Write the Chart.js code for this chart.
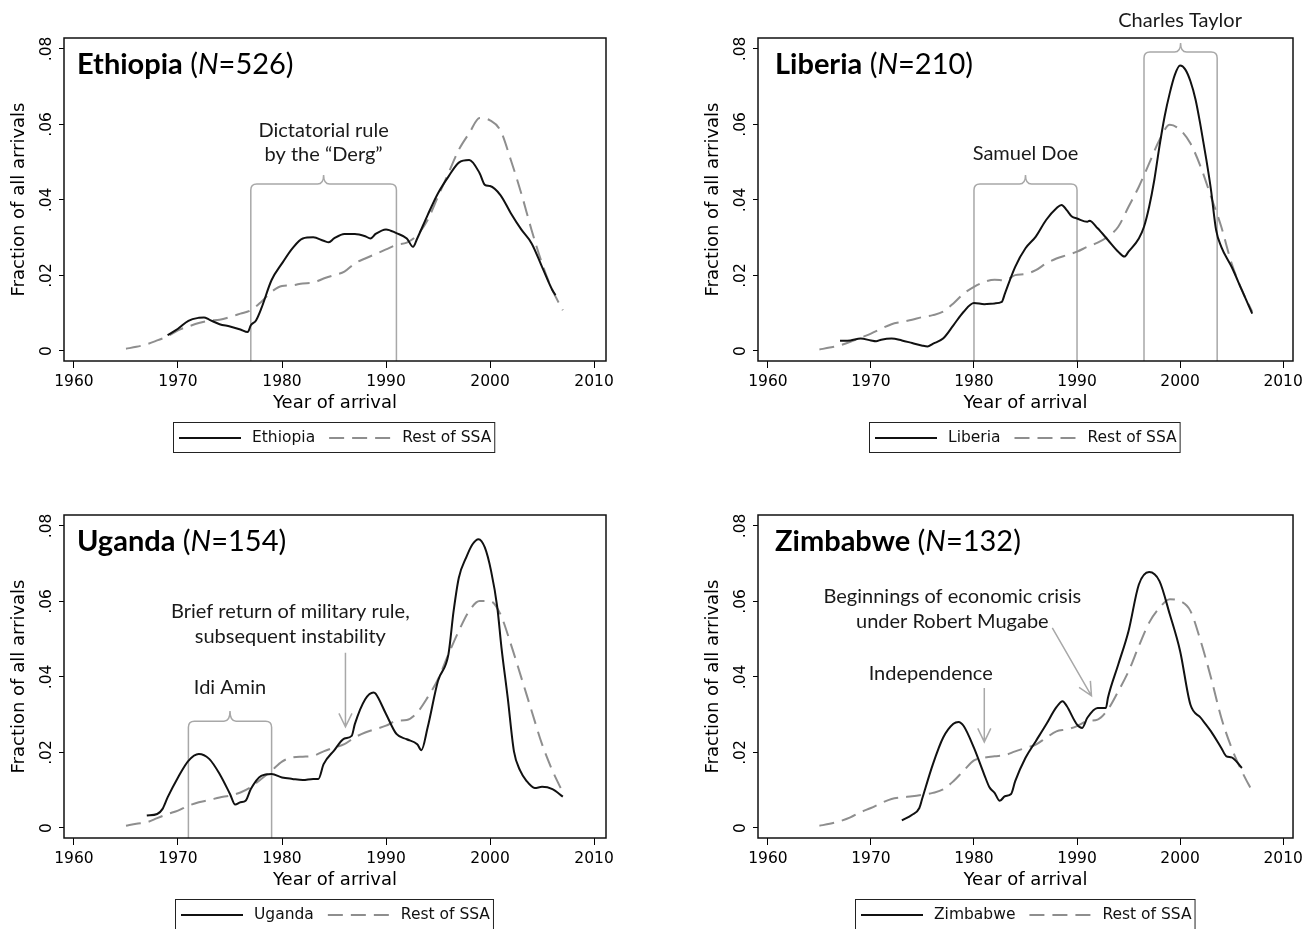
<!DOCTYPE html>
<html>
<head>
<meta charset="utf-8">
<script src="https://cdn.jsdelivr.net/npm/chart.js@4.4.0/dist/chart.umd.min.js"></script>
<style>
  body { margin: 0; background: #fff; width: 1308px; height: 929px; overflow: hidden; position: relative; }
  canvas { position: absolute; }
</style>
</head>
<body>
<canvas id="eth" width="654" height="464" style="left:0;top:0"></canvas>
<canvas id="lib" width="654" height="464" style="left:654px;top:0"></canvas>
<canvas id="uga" width="654" height="465" style="left:0;top:464px"></canvas>
<canvas id="zim" width="654" height="465" style="left:654px;top:464px"></canvas>
<script>
// axis ticks
var xTickVals = [1960, 1970, 1980, 1990, 2000, 2010];
var yTickVals = [0, .02, .04, .06, .08];
var yTickLabels = ['0', '.02', '.04', '.06', '.08'];

// years for the "Rest of SSA" series
var restYears = [1965,1966,1967,1968,1969,1970,1971,1972,1973,1974,1975,1976,1977,1978,1979,
  1980,1981,1982,1983,1984,1985,1986,1987,1988,1989,1990,1991,1992,1993,1994,1995,1996,1997,
  1998,1999,2000,2001,2002,2003,2004,2005,2006,2007];

// Ethiopia
var ethYears = [1969,1970,1971,1972,1972.5,1973,1974,1975,1976,1976.7,1977,1977.5,1978,1979,1980,
  1981,1982,1983,1984,1984.5,1985,1986,1987,1988,1988.5,1989,1990,1991,1992,1992.6,1993,1994,1995,
  1996,1997,1998,1999,1999.5,2000,2001,2002,2003,2004,2005,2006,2006.3];
var ethVals = [.0042,.0059,.008,.0088,.0089,.0083,.0071,.0065,.0057,.005,.0068,.0081,.0112,.0188,.0232,
  .0272,.0298,.0301,.0292,.0288,.0298,.031,.031,.0304,.0298,.031,.0322,.0312,.0298,.0276,.0298,.036,.0418,
  .0462,.0499,.0506,.0471,.044,.0437,.0413,.0365,.0322,.0285,.0223,.0161,.0148];
var ethRest = [.0006,.0011,.0018,.0028,.0039,.0055,.0065,.0074,.008,.0083,.009,.0099,.0108,.013,.0157,
  .0172,.0174,.0179,.0181,.0192,.0201,.021,.0232,.0245,.0257,.0269,.0281,.0287,.0307,.0347,.0409,.0471,
  .0533,.0577,.0617,.0611,.0584,.0506,.0418,.032,.0232,.0161,.0108];

// Liberia
var libYears = [1967,1968,1969,1970,1970.5,1971,1972,1973,1974,1975,1975.5,1976,1977,1978,1979,1980,
  1981,1982,1982.7,1983,1984,1985,1986,1987,1988,1988.5,1989,1989.5,1990,1991,1991.2,1992,1993,1994,
  1994.6,1995,1996,1996.5,1997,1997.5,1998,1998.5,1999,1999.5,2000,2000.5,2001,2001.5,2002,2002.5,
  2003,2003.5,2004,2005,2006,2007];
var libVals = [.0027,.0028,.0033,.0028,.0026,.003,.0033,.0028,.0021,.0014,.0012,.0019,.0033,.0068,.0104,
  .0127,.0124,.0126,.013,.0152,.0223,.0272,.0303,.0347,.0378,.0387,.0373,.0356,.0351,.0342,.0345,.0325,
  .0294,.0263,.025,.0263,.0298,.0329,.0382,.0453,.0542,.0621,.0683,.0732,.0756,.0746,.0715,.0666,.0595,
  .0515,.0427,.032,.0276,.0223,.0161,.0099];
var libRest = [.0004,.0009,.0015,.0024,.0035,.0046,.0059,.0071,.0077,.0083,.009,.0095,.0104,.0126,.0152,
  .017,.0183,.0189,.0187,.0201,.0204,.0214,.0232,.0245,.0254,.0263,.0276,.0287,.0303,.0329,.0382,.0435,
  .0497,.0559,.0599,.0586,.055,.0488,.0409,.0329,.0232,.0161,.0104];

// Uganda
var ugaYears = [1967,1968,1968.5,1969,1970,1971,1972,1973,1974,1975,1975.5,1976,1976.5,1977,1978,1979,
  1980,1981,1982,1983,1983.5,1984,1985,1986,1986.7,1987,1988,1988.8,1989,1990,1991,1992,1993,1993.4,
  1994,1995,1996,1996.5,1997,1997.7,1998.3,1998.9,1999.5,2000.1,2000.7,2001.1,2001.7,2002.3,2002.9,
  2003.5,2004.3,2005,2006,2007];
var ugaVals = [.0033,.0037,.005,.0081,.0134,.0178,.0196,.0183,.0143,.009,.0062,.0068,.0072,.0103,.0138,
  .0143,.0134,.013,.0127,.013,.013,.0169,.0205,.0237,.0244,.0275,.0341,.0359,.0356,.0302,.0249,.0235,
  .0222,.0206,.0266,.039,.046,.0575,.0663,.0716,.0751,.0765,.0743,.0681,.0584,.0478,.0345,.0203,.0152,
  .0125,.0106,.0109,.0103,.0083];
var ugaRest = [.0006,.0011,.0015,.0026,.0037,.0046,.0059,.0068,.0074,.0081,.0086,.0094,.0108,.013,.0152,
  .0176,.0187,.0189,.0191,.0203,.0213,.0222,.024,.0253,.0262,.0271,.0284,.0286,.0306,.0346,.0394,.046,
  .0522,.0575,.0601,.0601,.0566,.0487,.0399,.031,.0222,.0152,.0094];

// Zimbabwe
var zimYears = [1973,1974,1974.7,1975,1976,1977,1978,1978.5,1979,1980,1981,1981.5,1982,1982.5,1983,
  1983.6,1984,1985,1986,1987,1988,1988.6,1989,1990,1990.5,1991,1992,1992.8,1993,1994,1995,1996,1997,
  1998,1999,2000,2001,2002,2003,2004,2004.5,2005,2006];
var zimVals = [.002,.0035,.0053,.008,.0168,.0239,.0276,.0281,.027,.0212,.0141,.0108,.0093,.0072,.0084,
  .009,.0124,.0186,.023,.0274,.032,.0336,.0323,.0274,.0265,.0292,.0318,.0318,.0345,.0433,.0522,.0645,
  .0678,.0654,.0566,.0469,.0327,.0292,.0256,.0212,.019,.0187,.0159];
var zimRest = [.0006,.0011,.0018,.0028,.0042,.0053,.0066,.0077,.0081,.0084,.0088,.0093,.0102,.0124,.0152,
  .0179,.0186,.019,.0193,.0203,.0212,.0221,.0239,.0256,.0261,.027,.0283,.0287,.0314,.0362,.0415,.0482,
  .0544,.0583,.0606,.0601,.0575,.0495,.0398,.0292,.0212,.015,.0097];

function pts(xs, ys) {
  var out = [];
  for (var i = 0; i < xs.length; i++) out.push({ x: xs[i], y: ys[i] });
  return out;
}

var GRAY = '#a8a8a8';
var NOTE_FONT = '20px Lato';

// draws frame, title, legend, annotations
var decor = {
  id: 'decor',
  beforeDatasetsDraw: function(chart, args, o) {
    var ctx = chart.ctx, ca = chart.chartArea, xs = chart.scales.x, ys = chart.scales.y;
    ctx.save();
    ctx.strokeStyle = GRAY; ctx.lineWidth = 1.5;
    (o.brackets || []).forEach(function(b) {
      var x1 = xs.getPixelForValue(b.x1), x2 = xs.getPixelForValue(b.x2);
      var xm = (x1 + x2) / 2, t = ys.getPixelForValue(b.top), pk = ys.getPixelForValue(b.peak);
      var r = 6, bot = ca.bottom;
      ctx.beginPath();
      ctx.moveTo(x1, bot); ctx.lineTo(x1, t + r);
      ctx.quadraticCurveTo(x1, t, x1 + r, t);
      ctx.lineTo(xm - r, t);
      ctx.quadraticCurveTo(xm, t, xm, pk);
      ctx.quadraticCurveTo(xm, t, xm + r, t);
      ctx.lineTo(x2 - r, t);
      ctx.quadraticCurveTo(x2, t, x2, t + r);
      ctx.lineTo(x2, bot);
      ctx.stroke();
    });
    (o.arrows || []).forEach(function(a) {
      var x1 = xs.getPixelForValue(a.x1), y1 = ys.getPixelForValue(a.y1);
      var x2 = xs.getPixelForValue(a.x2), y2 = ys.getPixelForValue(a.y2);
      var ang = Math.atan2(y2 - y1, x2 - x1), L = 15, w = 0.45;
      ctx.beginPath();
      ctx.moveTo(x1, y1); ctx.lineTo(x2, y2);
      ctx.moveTo(x2 - L * Math.cos(ang - w), y2 - L * Math.sin(ang - w));
      ctx.lineTo(x2, y2);
      ctx.lineTo(x2 - L * Math.cos(ang + w), y2 - L * Math.sin(ang + w));
      ctx.stroke();
    });
    ctx.restore();
  },
  afterDraw: function(chart, args, o) {
    var ctx = chart.ctx, ca = chart.chartArea, xs = chart.scales.x, ys = chart.scales.y;
    var ds = chart.data.datasets;
    ctx.save();
    // plot frame
    ctx.strokeStyle = '#111'; ctx.lineWidth = 1.5;
    ctx.strokeRect(ca.left, ca.top, ca.right - ca.left, ca.bottom - ca.top);

    // panel title
    var tx = ca.left + o.titleDx, ty = ca.top + 36;
    ctx.fillStyle = '#000'; ctx.textAlign = 'left'; ctx.textBaseline = 'alphabetic';
    [[o.name, 'bold '], [' (', ''], ['N', 'italic '], ['=' + o.n + ')', '']].forEach(function(p) {
      ctx.font = p[1] + '29px Lato';
      ctx.fillText(p[0], tx, ty);
      tx += ctx.measureText(p[0]).width;
    });

    // annotation texts
    ctx.font = NOTE_FONT; ctx.fillStyle = '#1a1a1a';
    ctx.textAlign = 'center'; ctx.textBaseline = 'middle';
    (o.notes || []).forEach(function(n) {
      ctx.fillText(n.text, xs.getPixelForValue(n.x), ys.getPixelForValue(n.y));
    });

    // legend
    ctx.font = '15.5px "DejaVu Sans"';
    var w0 = ctx.measureText(ds[0].label).width, w1 = ctx.measureText(ds[1].label).width;
    var W = 6 + 62 + 11 + w0 + 14 + 62 + 11 + w1 + 3;
    var left = Math.round((ca.left + ca.right) / 2 - 1 - W / 2), top = Math.round(ca.bottom + 61);
    ctx.strokeStyle = '#222'; ctx.lineWidth = 1;
    ctx.strokeRect(left + .5, top + .5, W, 30);
    var x = left + 6, cy = top + 16;
    [0, 1].forEach(function(i) {
      ctx.save();
      ctx.strokeStyle = ds[i].borderColor; ctx.lineWidth = ds[i].borderWidth;
      ctx.setLineDash(ds[i].borderDash || []);
      ctx.beginPath(); ctx.moveTo(x, cy); ctx.lineTo(x + 62, cy); ctx.stroke();
      ctx.restore();
      x += 62 + 11;
      ctx.fillStyle = '#111'; ctx.textAlign = 'left'; ctx.textBaseline = 'middle';
      ctx.fillText(ds[i].label, x, cy);
      x += (i ? w1 : w0) + 14;
    });
    ctx.restore();
  }
};

function makePanel(id, p) {
  var tickFont = { family: 'DejaVu Sans', size: 15.5 };
  var titleFont = { family: 'DejaVu Sans', size: 18 };
  return new Chart(document.getElementById(id), {
    type: 'line',
    data: {
      datasets: [
        { label: p.name, data: pts(p.years, p.vals), borderColor: '#111', borderWidth: 2,
          pointRadius: 0, cubicInterpolationMode: 'monotone' },
        { label: 'Rest of SSA', data: pts(restYears, p.rest), borderColor: '#8e8e8e', borderWidth: 2,
          borderDash: [15, 8], pointRadius: 0, cubicInterpolationMode: 'monotone' }
      ]
    },
    plugins: [decor],
    options: {
      responsive: false,
      devicePixelRatio: 1,
      animation: false,
      layout: { padding: { left: 0, top: p.top, right: p.right, bottom: p.bottom } },
      scales: {
        x: {
          type: 'linear', min: 1959.04, max: p.xMax,
          afterBuildTicks: function(s) { s.ticks = xTickVals.map(function(v) { return { value: v }; }); },
          afterFit: function(s) { s.height = 60; },
          grid: { drawOnChartArea: false, drawTicks: true, tickLength: 7, color: '#000', lineWidth: 1 },
          border: { display: false },
          ticks: { color: '#000', font: tickFont, padding: 5, maxRotation: 0, autoSkip: false,
            callback: function(v) { return String(v); } },
          title: { display: true, text: 'Year of arrival', color: '#000', font: titleFont,
            padding: { top: 0, bottom: 7 } }
        },
        y: {
          type: 'linear', min: -0.00265, max: 0.0829,
          afterBuildTicks: function(s) { s.ticks = yTickVals.map(function(v) { return { value: v }; }); },
          afterFit: function(s) { s.width = p.left; },
          grid: { drawOnChartArea: false, drawTicks: true, tickLength: 5, color: '#000', lineWidth: 1 },
          border: { display: false },
          ticks: { color: '#000', font: tickFont, padding: 0, minRotation: 90, maxRotation: 90,
            crossAlign: 'center',
            callback: function(v) { return yTickLabels[yTickVals.indexOf(v)]; } },
          title: { display: true, text: 'Fraction of all arrivals', color: '#000', font: titleFont,
            padding: { top: p.yTitlePad, bottom: 0 } }
        }
      },
      plugins: {
        legend: { display: false },
        tooltip: { enabled: false },
        decor: { name: p.name, n: p.n, titleDx: p.titleDx, notes: p.notes, brackets: p.brackets, arrows: p.arrows }
      }
    }
  });
}

makePanel('eth', {
  name: 'Ethiopia', n: 526, years: ethYears, vals: ethVals, rest: ethRest,
  left: 64, top: 38, right: 48, bottom: 43, xMax: 2011.15, yTitlePad: 9, titleDx: 13,
  notes: [{ text: 'Dictatorial rule', x: 1984, y: .0585 }, { text: 'by the \u201cDerg\u201d', x: 1984, y: .0519 }],
  brackets: [{ x1: 1977, x2: 1991, top: .0442, peak: .0466 }]
});
makePanel('lib', {
  name: 'Liberia', n: 210, years: libYears, vals: libVals, rest: libRest,
  left: 104, top: 38, right: 9, bottom: 43, xMax: 2010.96, yTitlePad: 49, titleDx: 17,
  notes: [{ text: 'Samuel Doe', x: 1985, y: .0524 }, { text: 'Charles Taylor', x: 2000, y: .0874 }],
  brackets: [{ x1: 1980, x2: 1990, top: .0442, peak: .0466 }, { x1: 1996.5, x2: 2003.6, top: .0792, peak: .0816 }]
});
makePanel('uga', {
  name: 'Uganda', n: 154, years: ugaYears, vals: ugaVals, rest: ugaRest,
  left: 64, top: 51, right: 48, bottom: 31, xMax: 2011.15, yTitlePad: 9, titleDx: 13,
  notes: [{ text: 'Idi Amin', x: 1975, y: .0371 },
    { text: 'Brief return of military rule,', x: 1980.8, y: .0572 },
    { text: 'subsequent instability', x: 1980.8, y: .0506 }],
  brackets: [{ x1: 1971, x2: 1979, top: .0283, peak: .031 }],
  arrows: [{ x1: 1986.1, y1: .0464, x2: 1986.1, y2: .0268 }]
});
makePanel('zim', {
  name: 'Zimbabwe', n: 132, years: zimYears, vals: zimVals, rest: zimRest,
  left: 104, top: 51, right: 8, bottom: 31, xMax: 2010.96, yTitlePad: 49, titleDx: 17,
  notes: [{ text: 'Beginnings of economic crisis', x: 1977.9, y: .0612 },
    { text: 'under Robert Mugabe', x: 1977.9, y: .0546 },
    { text: 'Independence', x: 1975.8, y: .0408 }],
  arrows: [{ x1: 1987.6, y1: .053, x2: 1991.4, y2: .035 }, { x1: 1981, y1: .0371, x2: 1981, y2: .0228 }]
});
</script>
</body>
</html>
